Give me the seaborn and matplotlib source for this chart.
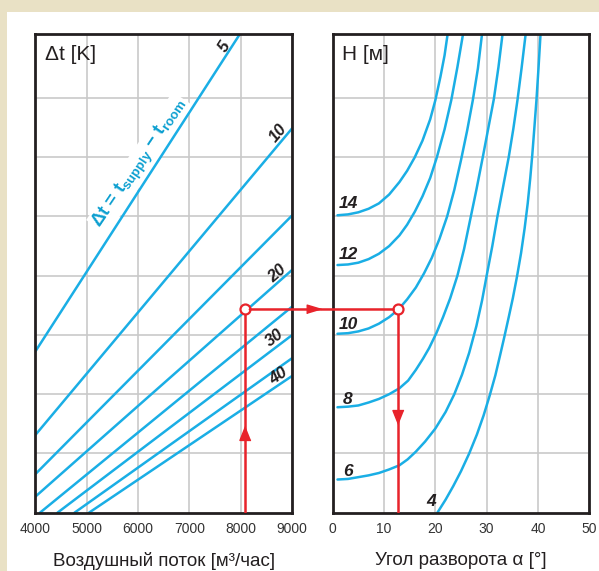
import numpy as np
import pandas as pd
import matplotlib
matplotlib.use("Agg")
import matplotlib.pyplot as plt
import seaborn as sns
from matplotlib.patches import Rectangle, ConnectionPatch
from matplotlib.lines import Line2D

# ---------------- data ----------------
flow_ticks = [4000, 5000, 6000, 7000, 8000, 9000]
angle_ticks = [0, 10, 20, 30, 40, 50]

# straight lines, one per temperature difference (K)
dt_values = [5, 10, 15, 20, 25, 30, 35, 40]
line_flow_start = [4000, 4000, 4000, 4000, 4091, 4432, 4763, 5045]
line_y_start = [2.72, 1.31, 0.65, 0.27, 0.0, 0.0, 0.0, 0.0]
line_flow_end = [7982, 9000, 9000, 9000, 9000, 9000, 9000, 9000]
line_y_end = [8.08, 6.49, 5.02, 4.10, 3.48, 3.00, 2.61, 2.31]
dt_labelled = ["5", "10", "20", "30", "40"]

# throw-height curves H [m] : angle (deg) vs chart level
H_values = [14, 12, 10, 8, 6, 4]
h14_angle = [0.94, 3, 5, 7, 9, 11, 13, 14.5, 16, 17.5, 19, 20, 21, 21.8, 22.4]
h14_level = [5.02, 5.035, 5.07, 5.13, 5.22, 5.37, 5.58, 5.77, 6.00, 6.28, 6.64, 6.96, 7.36, 7.72, 8.08]
h12_angle = [0.94, 3, 5, 7, 9, 11, 13, 14.5, 16, 17.5, 19, 20.3, 21.8, 23.1, 24.3, 25.4]
h12_level = [4.18, 4.19, 4.22, 4.28, 4.37, 4.50, 4.68, 4.86, 5.08, 5.34, 5.65, 6.00, 6.47, 6.96, 7.52, 8.08]
h10_angle = [0.94, 3, 5, 7, 9, 11, 12.8, 14.5, 16.2, 17.8, 19.3, 20.8, 22.3, 23.7, 25.0, 26.2, 27.3, 28.3, 29.1]
h10_level = [3.02, 3.03, 3.06, 3.11, 3.19, 3.30, 3.43, 3.60, 3.80, 4.04, 4.30, 4.62, 5.00, 5.45, 5.95, 6.45, 6.96, 7.50, 8.08]
h8_angle = [0.94, 3, 5, 7, 9, 11, 13, 14.7, 16.2, 17.6, 18.8, 20.2, 21.5, 22.9, 24.3, 25.6, 26.8,
            28.0, 29.2, 30.3, 31.4, 32.3, 33.1]
h8_level = [1.78, 1.79, 1.81, 1.86, 1.92, 2.00, 2.10, 2.23, 2.41, 2.60, 2.78, 3.03, 3.30, 3.62, 4.00,
            4.45, 4.95, 5.45, 5.98, 6.48, 6.98, 7.52, 8.08]
h6_angle = [0.94, 3, 5, 7, 9, 11, 13, 14.6, 16.2, 18, 20, 22, 23.7, 25.2, 26.6, 28.0, 29.1, 30.0,
            31.1, 32.1, 33.2, 34.3, 35.2, 36.0, 36.8, 37.6]
h6_level = [0.56, 0.57, 0.60, 0.63, 0.67, 0.73, 0.80, 0.90, 1.03, 1.20, 1.42, 1.70, 2.00, 2.33, 2.70,
            3.15, 3.58, 4.00, 4.50, 5.00, 5.50, 6.00, 6.48, 6.96, 7.50, 8.08]
h4_angle = [20.4, 22, 23.5, 25, 26.6, 28.1, 29.4, 30.6, 31.7, 32.6, 33.4, 34.3, 35.1, 35.9, 36.7,
            37.4, 38.0, 38.5, 38.9, 39.3, 39.7, 40.1, 40.5]
h4_level = [0.0, 0.22, 0.45, 0.70, 1.00, 1.32, 1.64, 1.98, 2.32, 2.65, 2.95, 3.30, 3.62, 3.98, 4.38,
            4.80, 5.22, 5.65, 6.05, 6.50, 6.96, 7.50, 8.08]

# worked example
example_flow = 8080
example_angle = 12.8
example_level = 3.43

# ---------------- styling ----------------
CYAN = "#1aaee5"
CYAN_TXT = "#0c9fd0"
RED = "#e8232b"
INK = "#231f20"
BEIGE = "#e9e1c5"
YMAX = 8.08

sns.set_theme(style="white")
plt.rcParams["font.family"] = ["Liberation Sans", "DejaVu Sans"]
plt.rcParams["mathtext.fontset"] = "custom"
plt.rcParams["mathtext.rm"] = "Liberation Sans:bold"
plt.rcParams["mathtext.it"] = "Liberation Sans:bold"
plt.rcParams["mathtext.bf"] = "Liberation Sans:bold"

fig = plt.figure(figsize=(5.99, 5.71), dpi=100)
fig.patch.set_facecolor(BEIGE)
fig.add_artist(Rectangle((7 / 599, 0), 1, (571 - 12) / 571, transform=fig.transFigure,
                         facecolor="white", edgecolor="none", zorder=-5))

ax1 = fig.add_axes([0.0589, 0.1021, 0.4290, 0.8384])
ax2 = fig.add_axes([0.5554, 0.1021, 0.4284, 0.8384])

# long-format frames
left_rows = []
for i, dt in enumerate(dt_values):
    left_rows.append((dt, line_flow_start[i], line_y_start[i]))
    left_rows.append((dt, line_flow_end[i], line_y_end[i]))
df_left = pd.DataFrame(left_rows, columns=["dt", "flow", "level"])

curves = [(14, h14_angle, h14_level), (12, h12_angle, h12_level), (10, h10_angle, h10_level),
          (8, h8_angle, h8_level), (6, h6_angle, h6_level), (4, h4_angle, h4_level)]
right_rows = []
for H, a, lv in curves:
    for x, y in zip(a, lv):
        right_rows.append((H, x, y))
df_right = pd.DataFrame(right_rows, columns=["H", "angle", "level"])

sns.lineplot(data=df_left, x="flow", y="level", units="dt", estimator=None, sort=False,
             color=CYAN, lw=1.8, ax=ax1, legend=False)
sns.lineplot(data=df_right, x="angle", y="level", units="H", estimator=None, sort=False,
             color=CYAN, lw=1.8, ax=ax2, legend=False)
for ax in (ax1, ax2):
    for ln in ax.get_lines():
        ln.set_solid_joinstyle("round")

for ax, ticks in ((ax1, flow_ticks), (ax2, angle_ticks)):
    ax.set_xlim(ticks[0], ticks[-1])
    ax.set_ylim(0, YMAX)
    ax.set_xticks(ticks)
    ax.set_xticklabels([str(t) for t in ticks])
    ax.set_yticks(range(1, 8))
    ax.set_yticklabels([])
    ax.set_ylabel("")
    ax.tick_params(axis="both", length=0)
    ax.tick_params(axis="x", pad=7, labelsize=10, labelcolor="#333333")
    ax.grid(True, color="#c9c9c9", lw=1.2)
    ax.set_axisbelow(True)
    ax.set_facecolor("white")
    for s in ax.spines.values():
        s.set_visible(True)
        s.set_color(INK)
        s.set_linewidth(2.0)
        s.set_zorder(5)

ax1.set_xlabel("Воздушный поток [м³/час]", fontsize=13.5, labelpad=11, color=INK)
ax2.set_xlabel("Угол разворота α [°]", fontsize=13.5, labelpad=11, color=INK)

ax1.text(0.038, 0.958, "Δt [K]", transform=ax1.transAxes, fontsize=15, color=INK,
         ha="left", va="center")
ax2.text(0.038, 0.958, "H [м]", transform=ax2.transAxes, fontsize=15, color=INK,
         ha="left", va="center")

# labels on the straight lines
left_label_pos = [(7691, 7.87, 57), (8722, 6.41, 50), (8708, 4.04, 41), (8663, 2.95, 37), (8728, 2.30, 34)]
for txt, (x, y, rot) in zip(dt_labelled, left_label_pos):
    ax1.text(x, y, txt, fontsize=12, fontweight="bold", fontstyle="italic", color=INK, rotation=rot,
             rotation_mode="anchor", ha="center", va="center", zorder=6)

ax1.text(6040, 5.90, "Δt = t$_{\\mathrm{supply}}$ − t$_{\\mathrm{room}}$", fontsize=13.5,
         fontweight="bold", color=CYAN_TXT, rotation=56, rotation_mode="anchor",
         ha="center", va="center", zorder=1.5,
         bbox=dict(facecolor="white", edgecolor="none", pad=1.0))

# labels on curves
right_label_pos = [(3.1, 5.22), (3.1, 4.35), (3.1, 3.17), (2.9, 1.91), (2.9, 0.70), (19.1, 0.19)]
for H, (x, y) in zip(H_values, right_label_pos):
    ax2.text(x, y, str(H), fontsize=12.5, fontweight="bold", fontstyle="italic", color=INK,
             ha="center", va="center", zorder=6)

# ---------------- worked example (red) ----------------
up_head = [(0, 1), (-0.8, -1), (0.8, -1)]
down_head = [(0, -1), (-0.8, 1), (0.8, 1)]
right_head = [(1, 0), (-1, 0.6), (-1, -0.6)]

ax1.plot([example_flow, example_flow], [0, example_level], color=RED, lw=1.8, zorder=7,
         solid_capstyle="butt")
ax1.plot([example_flow], [1.34], marker=up_head, ms=10, color=RED, mec=RED, zorder=8)
ax2.plot([example_angle, example_angle], [0, example_level], color=RED, lw=1.8, zorder=7,
         solid_capstyle="butt")
ax2.plot([example_angle], [1.61], marker=down_head, ms=10, color=RED, mec=RED, zorder=8)

con = ConnectionPatch(xyA=(example_flow, example_level), coordsA=ax1.transData,
                      xyB=(example_angle, example_level), coordsB=ax2.transData,
                      color=RED, lw=1.8, shrinkA=3.5, shrinkB=3.5, zorder=7)
fig.add_artist(con)

for ax, x in ((ax1, example_flow), (ax2, example_angle)):
    ax.plot([x], [example_level], marker="o", ms=7.2, mfc="white", mec=RED, mew=1.6,
            zorder=9, clip_on=False)

# arrow head in the gap between panels
fig.canvas.draw()
pA = ax1.transData.transform((example_flow, example_level))
pB = ax2.transData.transform((example_angle, example_level))
mid = ((pA[0] + pB[0]) / 2 - 8, pA[1])
mid_fig = fig.transFigure.inverted().transform(mid)
fig.add_artist(Line2D([mid_fig[0]], [mid_fig[1]], marker=right_head, ms=10.5, color=RED,
                      mec=RED, transform=fig.transFigure, zorder=8))

fig.savefig("out.png", dpi=100, facecolor=fig.get_facecolor())
